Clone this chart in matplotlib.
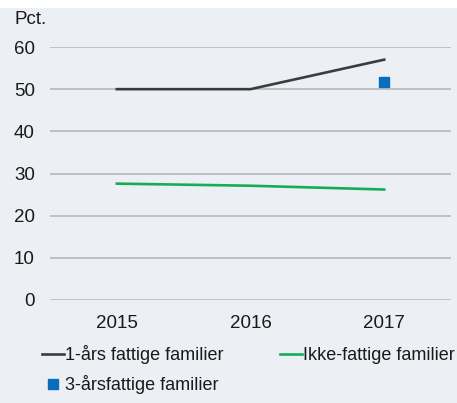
import matplotlib.pyplot as plt
from matplotlib.patches import Rectangle

plt.rcParams["font.family"] = ["Liberation Sans", "DejaVu Sans"]

years = [2015, 2016, 2017]
one_year_poor = [50, 50, 57]
not_poor = [27.6, 27.1, 26.2]
three_year_years = [2017]
three_year_poor = [51.8]
yticks = [0, 10, 20, 30, 40, 50, 60]

bg = "#eceff3"
txt = "#1a1a1a"

fig = plt.figure(figsize=(4.57, 4.03), dpi=100, facecolor=bg)
# white strip at the very top of the crop
fig.patches.append(Rectangle((0, 1 - 8 / 403), 1, 8 / 403, transform=fig.transFigure,
                             facecolor="white", edgecolor="none", zorder=0))

ax = fig.add_axes([50 / 457, 1 - 300 / 403, 401 / 457, 253 / 403])
ax.set_facecolor(bg)

for y in yticks:
    ax.axhline(y, color="#b4b4b4", lw=1.1, zorder=1)

l1, = ax.plot(years, one_year_poor, color="#3e3b3c", lw=1.9, zorder=3,
              label="1-års fattige familier")
l2, = ax.plot(years, not_poor, color="#17ad56", lw=1.9, zorder=3,
              label="Ikke-fattige familier")
l3, = ax.plot(three_year_years, three_year_poor, ls="none", marker="s", ms=7,
              color="#0a6dbb", zorder=4, label="3-årsfattige familier")

ax.set_xlim(2014.5, 2017.5)
ax.set_ylim(0, 60)
ax.set_xticks(years)
ax.set_yticks(yticks)
ax.tick_params(length=0, labelsize=13.5, colors=txt)
ax.tick_params(axis="y", pad=11)
ax.tick_params(axis="x", pad=11)
for s in ax.spines.values():
    s.set_visible(False)

fig.text(15 / 457, 1 - 19 / 403, "Pct.", fontsize=13.5, color=txt, va="center", ha="left")

leg = fig.legend(handles=[l1, l3, l2], ncol=2, loc="upper left",
                 bbox_to_anchor=(42 / 457, 1 - 345 / 403), frameon=False,
                 fontsize=13, handlelength=1.2, handletextpad=0.1,
                 columnspacing=3.1, labelspacing=0.6, borderaxespad=0,
                 borderpad=0, labelcolor=txt)

fig.savefig("out.png", dpi=100, facecolor=bg)
